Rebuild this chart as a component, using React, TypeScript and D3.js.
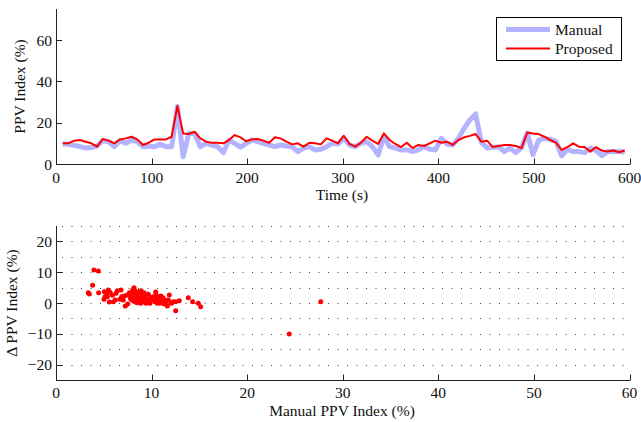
import React from "react";
import * as d3 from "d3";

// Time (s) of each sample
const times = [
  7, 13, 19, 25, 31, 37, 43, 49, 55, 61, 67, 73, 79, 85, 91, 97, 103, 109, 115, 121,
  127, 133, 139, 145, 151, 157, 163, 169, 175, 181, 187, 193, 199, 205, 211, 217, 223, 229, 235, 241,
  247, 253, 259, 265, 271, 277, 283, 289, 295, 301, 307, 313, 319, 325, 331, 337, 343, 349, 355, 361,
  367, 373, 379, 385, 391, 397, 403, 409, 415, 421, 427, 433, 439, 445, 451, 457, 463, 469, 475, 481,
  487, 493, 499, 505, 511, 517, 523, 529, 535, 541, 547, 553, 559, 565, 571, 577, 583, 589, 595,
];

// Manual PPV index (%)
const manual = [
  9.7, 9.5, 9.0, 8.4, 7.7, 8.0, 8.7, 11.3, 10.8, 8.4, 11.3, 10.0, 11.6, 10.8, 8.4, 8.7, 8.4, 9.5, 8.4, 8.4,
  27.8, 3.5, 14.8, 14.8, 8.4, 10.0, 9.2, 8.4, 5.5, 11.6, 10.0, 8.2, 10.0, 11.6, 10.8, 10.0, 9.2, 8.4, 9.2, 8.7,
  8.4, 6.0, 7.7, 8.4, 6.8, 7.1, 8.4, 10.0, 9.7, 12.4, 9.2, 8.4, 10.0, 10.8, 8.4, 4.4, 13.2, 8.4, 7.7, 6.8,
  6.8, 6.0, 6.8, 8.4, 7.1, 6.8, 12.4, 9.7, 9.2, 12.4, 17.3, 21.3, 24.2, 10.5, 7.7, 8.1, 8.4, 6.0, 7.7, 5.5,
  7.7, 15.0, 4.6, 11.5, 12.4, 11.9, 11.0, 4.0, 7.1, 6.0, 6.0, 5.5, 7.7, 6.5, 4.0, 6.0, 6.0, 6.0, 5.8,
];

// Proposed PPV index (%)
const proposed = [
  10.0, 10.0, 11.3, 11.6, 10.8, 10.0, 8.4, 12.1, 11.3, 10.0, 11.9, 12.4, 13.2, 11.9, 9.2, 10.3, 11.9, 11.9, 11.9, 13.2,
  28.1, 14.8, 14.5, 15.6, 12.4, 10.8, 10.3, 10.3, 10.0, 11.6, 14.0, 12.9, 11.0, 11.9, 12.1, 11.3, 10.3, 12.9, 12.4, 10.8,
  9.5, 10.0, 8.4, 10.3, 10.0, 9.5, 12.4, 11.3, 10.0, 13.7, 9.7, 8.4, 10.3, 13.2, 11.3, 9.7, 14.8, 11.6, 9.7, 8.2,
  10.3, 7.7, 9.2, 8.7, 10.0, 11.3, 10.3, 10.8, 9.2, 11.6, 12.9, 13.6, 14.5, 10.8, 11.3, 8.2, 8.7, 9.2, 9.2, 8.7,
  7.7, 15.2, 14.8, 14.5, 13.2, 11.6, 10.3, 6.8, 8.2, 10.0, 8.4, 8.2, 6.0, 8.2, 6.5, 6.0, 6.5, 5.7, 6.5,
];

// Scatter: manual PPV index (%) and Δ PPV index (%)
const scatterManual = [
  3.38, 3.49, 3.83, 3.97, 4.43, 4.46, 5.02, 5.06, 5.13, 5.30, 5.37, 5.47, 5.58, 5.65, 6.0,
  6.28, 6.42, 6.8, 6.69, 6.87, 6.97, 7.04, 7.11, 7.25, 7.5,
  7.67, 7.81, 7.92, 8.02, 8.16, 8.26, 8.37, 8.44, 8.51, 8.61, 8.72, 8.79, 8.86, 8.96, 9.07, 9.13, 9.21, 9.31, 9.41, 9.55,
  9.66, 9.83, 10.01, 10.18, 10.36, 10.43, 10.53, 10.6, 10.7, 10.81, 10.95, 11.05, 10.88, 11.16, 11.3, 11.51, 11.65, 11.75,
  11.85, 12.0, 12.1, 12.27, 12.52, 12.9, 12.52, 13.84, 14.3, 14.89, 15.13, 24.4, 27.7,
  8.1, 8.3, 8.5, 8.7, 8.9, 9.0, 9.2, 9.4, 8.2, 8.0, 7.8, 9.6, 10.2, 10.5, 11.2, 6.2, 5.9, 7.4, 9.9, 11.4,
];
const scatterDelta = [
  3.36, 2.93, 5.75, 10.73, 10.41, 3.36, 1.19, 3.69, 2.06, 3.14, 2.06, 4.23, 0.33, 3.47, 0.43,
  3.14, 4.01, 4.23, 1.19, 2.06, 1.73, 0.98, 2.28, -0.98, -0.33,
  3.36, 2.06, 0.98, 4.23, 4.99, 2.6, 1.52, 0.11, 3.36, 2.06, 3.69, 0.98, -0.11, 2.93, 1.52, 0.43, 3.36, 2.28, -0.11, 1.19,
  2.82, -0.11, 0.98, 2.06, 0.43, 3.58, 1.52, -0.11, 0.98, 1.52, 2.28, 2.06, -0.11, 0.76, -0.33, 0.43, -0.98, 0.98,
  2.6, 0.11, -0.11, 0.43, 0.43, 0.76, -2.49, 1.73, 0.43, -0.11, -1.19, -10.1, 0.4,
  3.0, 3.9, 1.0, 1.4, 4.0, 0.3, 2.0, 1.0, 0.5, 2.3, 1.5, 0.2, 1.2, 2.5, 1.6, 1.0, 2.5, 2.5, 1.8, 1.0,
];

const topXTicks = [0, 100, 200, 300, 400, 500, 600];
const topYTicks = [0, 20, 40, 60];
const botXTicks = [0, 10, 20, 30, 40, 50, 60];
const botYTicks = [-20, -10, 0, 10, 20];
const botGrid = [-20, -15, -10, -5, 0, 5, 10, 15, 20, 25];

const FONT = "'Liberation Serif', 'Times New Roman', serif";
const FS = 15.5;

function fmt(v: number) {
  return v < 0 ? "\u2212" + Math.abs(v) : String(v);
}

export default function App() {
  const W = 641, H = 422;
  const xL = 56, xR = 629.5;

  // top chart
  const tx = d3.scaleLinear().domain([0, 600]).range([xL, xR]);
  const ty = d3.scaleLinear().domain([0, 75]).range([164, 9]);
  const topBase = 164.5;
  const lineGen = (vals: number[]) =>
    d3.line<number>().x((_, i) => tx(times[i])).y((v) => ty(v))(vals) || "";

  // bottom chart
  const bx = d3.scaleLinear().domain([0, 60]).range([xL, xR]);
  const by = d3.scaleLinear().domain([-25, 25]).range([380, 226]);
  const botBase = 380.5;

  const axisColor = "#222";
  const tickLen = 6;

  return (
    <svg width={W} height={H} style={{ position: "absolute", left: 0, top: 0, background: "#fff" }} fontFamily={FONT} fontSize={FS}>
      <rect width={W} height={H} fill="#fff" />
      {/* ---------- TOP ---------- */}
      <path d={lineGen(manual)} fill="none" stroke="#b3b3ff" strokeWidth={5} strokeLinejoin="round" />
      <path d={lineGen(proposed)} fill="none" stroke="#ff0000" strokeWidth={2} strokeLinejoin="round" />
      <line x1={xL + 0.5} x2={xL + 0.5} y1={ty(75)} y2={topBase} stroke={axisColor} />
      <line x1={xL} x2={xR + 0.5} y1={topBase} y2={topBase} stroke={axisColor} />
      {topXTicks.map((t) => (
        <g key={"tx" + t}>
          <line x1={Math.round(tx(t)) + 0.5} x2={Math.round(tx(t)) + 0.5} y1={topBase} y2={topBase - tickLen} stroke={axisColor} />
          <text x={tx(t)} y={182.5} textAnchor="middle" fill="#111">{t}</text>
        </g>
      ))}
      {topYTicks.map((t) => (
        <g key={"ty" + t}>
          <line x1={xL} x2={xL + tickLen} y1={Math.round(ty(t)) + 0.5} y2={Math.round(ty(t)) + 0.5} stroke={axisColor} />
          <text x={52} y={ty(t) + 5.5} textAnchor="end" fill="#111">{t}</text>
        </g>
      ))}
      <text x={342} y={200} textAnchor="middle" fill="#111">Time (s)</text>
      <text transform={`translate(25,${(ty(75) + 164) / 2}) rotate(-90)`} textAnchor="middle" fill="#111">PPV Index (%)</text>
      {/* legend */}
      <rect x={496.5} y={17.5} width={125} height={43} fill="#fff" stroke="#000" strokeWidth={1} />
      <line x1={506} x2={550} y1={29.5} y2={29.5} stroke="#b3b3ff" strokeWidth={5} />
      <line x1={506} x2={550} y1={48.5} y2={48.5} stroke="#ff0000" strokeWidth={2} />
      <text x={555} y={35} fill="#111">Manual</text>
      <text x={555} y={54} fill="#111">Proposed</text>

      {/* ---------- BOTTOM ---------- */}
      {botGrid.map((g) => (
        <line key={"g" + g} x1={xL + 6} x2={xR} y1={Math.round(by(g)) + 0.5} y2={Math.round(by(g)) + 0.5}
          stroke="#444" strokeWidth={1} strokeDasharray="1,8.5" />
      ))}
      {scatterManual.map((m, i) => (
        <circle key={"p" + i} cx={bx(m)} cy={by(scatterDelta[i])} r={2.5} fill="#ff0000" />
      ))}
      <line x1={xL + 0.5} x2={xL + 0.5} y1={by(25)} y2={botBase} stroke={axisColor} />
      <line x1={xL} x2={xR + 0.5} y1={botBase} y2={botBase} stroke={axisColor} />
      {botXTicks.map((t) => (
        <g key={"bx" + t}>
          <line x1={Math.round(bx(t)) + 0.5} x2={Math.round(bx(t)) + 0.5} y1={botBase} y2={botBase - tickLen} stroke={axisColor} />
          <text x={bx(t)} y={398} textAnchor="middle" fill="#111">{t}</text>
        </g>
      ))}
      {botYTicks.map((t) => (
        <g key={"by" + t}>
          <line x1={xL} x2={xL + tickLen} y1={Math.round(by(t)) + 0.5} y2={Math.round(by(t)) + 0.5} stroke={axisColor} />
          <text x={52} y={by(t) + 5.5} textAnchor="end" fill="#111">{fmt(t)}</text>
        </g>
      ))}
      <text x={342} y={416} textAnchor="middle" fill="#111">Manual PPV Index (%)</text>
      <text transform={`translate(17,${(by(25) + 380) / 2}) rotate(-90)`} textAnchor="middle" fill="#111">Δ PPV Index (%)</text>
    </svg>
  );
}
